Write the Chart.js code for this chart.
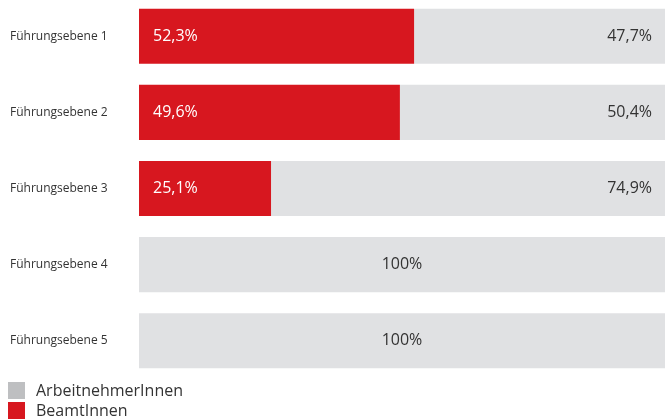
<!DOCTYPE html>
<html>
<head>
<meta charset="utf-8">
<script src="https://cdn.jsdelivr.net/npm/chart.js@4"></script>
<style>
  html, body { margin: 0; padding: 0; background: #fff; overflow: hidden; }
  #wrap { position: relative; width: 665px; height: 419px; font-family: "Open Sans", sans-serif; overflow: hidden; }
  #chart-box { position: absolute; left: 0; top: -12px; width: 665px; height: 401px; }
  #legend { position: absolute; left: 8px; top: 380px; }
  .item { display: flex; align-items: center; height: 20px; font-size: 16px; color: #333; }
  .box { width: 17px; height: 17px; margin-right: 11px; }
</style>
</head>
<body>
<div id="wrap">
  <div id="chart-box"><canvas id="chart"></canvas></div>
  <div id="legend"></div>
</div>
<script>
// ===== 数据 =====
const CATEGORIES = ['Führungsebene 1', 'Führungsebene 2', 'Führungsebene 3', 'Führungsebene 4', 'Führungsebene 5'];
const BEAMTE = [52.3, 49.6, 25.1, 0, 0];          // BeamtInnen (rot)
const ARBEITNEHMER = [47.7, 50.4, 74.9, 100, 100]; // ArbeitnehmerInnen (grau)

const COLOR_RED = '#d7171f';
const COLOR_GREY = '#e0e1e3';
const COLOR_LEGEND_GREY = '#bebfc1';
const COLOR_TEXT = '#333333';

function fmt(v) {
  if (v === 100) return '100%';
  return v.toFixed(1).replace('.', ',') + '%';
}

// ===== 柱内标签 =====
const barLabels = {
  id: 'barLabels',
  afterDatasetsDraw(chart) {
    const ctx = chart.ctx;
    const area = chart.chartArea;
    ctx.save();
    ctx.font = '16px "Open Sans", sans-serif';
    ctx.textBaseline = 'middle';
    chart.data.datasets.forEach((ds, di) => {
      const meta = chart.getDatasetMeta(di);
      meta.data.forEach((bar, i) => {
        const v = ds.data[i];
        if (!v) return;
        if (di === 0) {
          ctx.fillStyle = '#ffffff';
          ctx.textAlign = 'left';
          ctx.fillText(fmt(v), bar.base + 14, bar.y);
        } else {
          ctx.fillStyle = COLOR_TEXT;
          if (v === 100) {
            ctx.textAlign = 'center';
            ctx.fillText(fmt(v), (area.left + area.right) / 2, bar.y);
          } else {
            ctx.textAlign = 'right';
            ctx.fillText(fmt(v), area.right - 13, bar.y);
          }
        }
      });
    });
    ctx.restore();
  }
};

new Chart(document.getElementById('chart'), {
  type: 'bar',
  data: {
    labels: CATEGORIES,
    datasets: [
      { label: 'BeamtInnen', data: BEAMTE, backgroundColor: COLOR_RED },
      { label: 'ArbeitnehmerInnen', data: ARBEITNEHMER, backgroundColor: COLOR_GREY }
    ]
  },
  options: {
    indexAxis: 'y',
    responsive: true,
    maintainAspectRatio: false,
    animation: false,
    datasets: { bar: { categoryPercentage: 1, barPercentage: 0.724, borderWidth: 0 } },
    layout: { padding: { left: 10, right: 0, top: 0, bottom: 0 } },
    plugins: { legend: { display: false }, tooltip: { enabled: false } },
    scales: {
      x: { stacked: true, min: 0, max: 100, display: false },
      y: {
        stacked: true,
        grid: { display: false },
        border: { display: false },
        ticks: { color: COLOR_TEXT, font: { family: '"Open Sans", sans-serif', size: 12 }, crossAlign: 'far' },
        afterFit(scale) { scale.width = 129; }
      }
    }
  },
  plugins: [barLabels]
});

// ===== 图例 =====
const legendItems = [['ArbeitnehmerInnen', COLOR_LEGEND_GREY], ['BeamtInnen', COLOR_RED]];
document.getElementById('legend').innerHTML = legendItems
  .map(([t, c]) => `<div class="item"><span class="box" style="background:${c}"></span>${t}</div>`)
  .join('');
</script>
</body>
</html>
